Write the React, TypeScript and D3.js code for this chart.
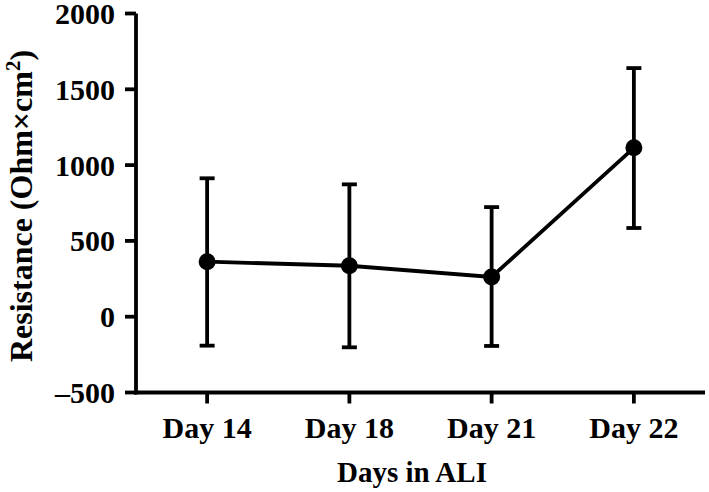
import React from "react";
import * as d3 from "d3";

const categories = ["Day 14", "Day 18", "Day 21", "Day 22"];
const means = [363, 336, 262, 1114];
const upper = [913, 873, 723, 1640];
const lower = [-191, -202, -193, 585];
const yTicks = [-500, 0, 500, 1000, 1500, 2000];

export default function App() {
  const W = 709, H = 492;
  const x = d3.scalePoint<string>().domain(categories).range([136, 705]).padding(0.5);
  const y = d3.scaleLinear().domain([-500, 2000]).range([392.5, 13.5]);
  const line = d3.line<number>().x((_, i) => x(categories[i])!).y((d) => y(d));
  const font = "'Liberation Serif', 'Times New Roman', serif";
  const sw = 3.8;
  return (
    <svg width={W} height={H} style={{ position: "absolute", left: 0, top: 0, background: "#fff" }}>
      <g fontFamily={font} fontWeight="bold" fill="#000">
        {/* axes */}
        <line x1={136} x2={136} y1={y(2000)} y2={y(-500) + sw / 2} stroke="#000" strokeWidth={sw} />
        <line x1={136 - sw / 2} x2={705} y1={y(-500)} y2={y(-500)} stroke="#000" strokeWidth={sw} />
        {yTicks.map((t) => (
          <g key={t}>
            <line x1={125} x2={136} y1={y(t)} y2={y(t)} stroke="#000" strokeWidth={sw} />
            <text x={115} y={y(t)} dy="0.35em" textAnchor="end" fontSize={30}>
              {t < 0 ? "\u2013" + Math.abs(t) : t}
            </text>
          </g>
        ))}
        {categories.map((c) => (
          <g key={c}>
            <line x1={x(c)} x2={x(c)} y1={y(-500)} y2={y(-500) + 11} stroke="#000" strokeWidth={sw} />
            <text x={x(c)} y={438} textAnchor="middle" fontSize={30}>{c}</text>
          </g>
        ))}
        <text x={412} y={482} textAnchor="middle" fontSize={29}>Days in ALI</text>
        <text transform="translate(32,206) rotate(-90)" textAnchor="middle" fontSize={32}>
          Resistance (Ohm×cm
          <tspan dy={-12} fontSize={21}>2</tspan>
          <tspan dy={12}>)</tspan>
        </text>
        {/* error bars */}
        {categories.map((c, i) => (
          <g key={"e" + c} stroke="#000" strokeWidth={sw}>
            <line x1={x(c)} x2={x(c)} y1={y(upper[i])} y2={y(lower[i])} />
            <line x1={x(c)! - 7.5} x2={x(c)! + 7.5} y1={y(upper[i])} y2={y(upper[i])} />
            <line x1={x(c)! - 7.5} x2={x(c)! + 7.5} y1={y(lower[i])} y2={y(lower[i])} />
          </g>
        ))}
        <path d={line(means)!} fill="none" stroke="#000" strokeWidth={sw} />
        {means.map((m, i) => (
          <circle key={i} cx={x(categories[i])} cy={y(m)} r={8.5} fill="#000" />
        ))}
      </g>
    </svg>
  );
}
